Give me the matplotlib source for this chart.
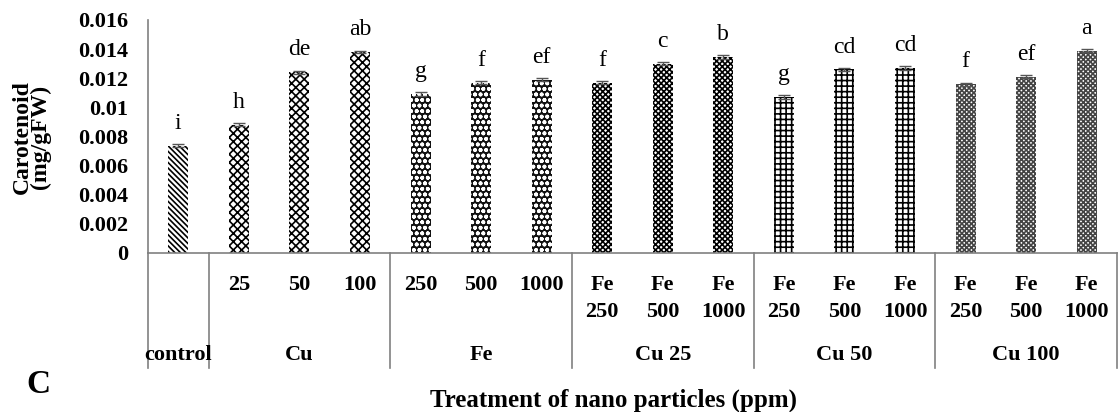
import numpy as np
import matplotlib.pyplot as plt
from matplotlib.transforms import blended_transform_factory

plt.rcParams['font.family'] = ['Liberation Serif', 'DejaVu Serif']
plt.rcParams['hatch.linewidth'] = 1.2

# data
sub_labels = ['', '25', '50', '100', '250', '500', '1000',
              'Fe\n250', 'Fe\n500', 'Fe\n1000',
              'Fe\n250', 'Fe\n500', 'Fe\n1000',
              'Fe\n250', 'Fe\n500', 'Fe\n1000']
groups = ['control', 'Cu', 'Fe', 'Cu 25', 'Cu 50', 'Cu 100']
group_sizes = [1, 3, 3, 3, 3, 3]
carotenoid = [0.00735, 0.0088, 0.0124, 0.0138,
              0.0109, 0.0117, 0.0119,
              0.0117, 0.0130, 0.01345,
              0.0107, 0.0126, 0.0127,
              0.0116, 0.0121, 0.0139]
errors = [0.0001, 0.0001, 0.00012, 0.0001,
          0.00012, 0.0001, 0.0001,
          0.00012, 0.0001, 0.00012,
          0.00015, 0.0001, 0.00015,
          0.0001, 0.0001, 0.00012]
letters = ['i', 'h', 'de', 'ab', 'g', 'f', 'ef', 'f', 'c', 'b',
           'g', 'cd', 'cd', 'f', 'ef', 'a']
y_ticks = [0, 0.002, 0.004, 0.006, 0.008, 0.01, 0.012, 0.014, 0.016]
y_tick_labels = ['0', '0.002', '0.004', '0.006', '0.008', '0.01',
                 '0.012', '0.014', '0.016']

# hatch style per group: (face, hatch colour, hatch)
group_style = [('white', 'black', '\\\\\\\\\\\\'),
               ('white', 'black', 'xxxx'),
               ('#111111', 'white', 'ooo'),
               ('white', 'black', 'xxxxxx'),
               ('white', 'black', '+++'),
               ('white', '#444444', 'xxxxxxx')]

fig = plt.figure(figsize=(11.18, 4.12), dpi=100)
ax = fig.add_axes([0.1324, 0.386, 0.8667, 0.5655])

x = np.arange(len(carotenoid))
styles = []
for g, n in enumerate(group_sizes):
    styles += [group_style[g]] * n

for i in range(len(x)):
    face, hc, hatch = styles[i]
    ax.bar(x[i], carotenoid[i], width=0.33, color=face, edgecolor=hc,
           hatch=hatch, linewidth=0)
ax.errorbar(x, carotenoid, yerr=errors, fmt='none', ecolor='#555555',
            elinewidth=1, capsize=4, capthick=1)

for i in range(len(x)):
    ax.annotate(letters[i], (x[i], carotenoid[i] + errors[i]),
                xytext=(0, 11), textcoords='offset points',
                ha='center', va='baseline', fontsize=17)

ax.set_xlim(-0.5, 15.5)
ax.set_ylim(0, 0.016)
ax.set_yticks(y_ticks)
ax.set_yticklabels(y_tick_labels, fontweight='bold', fontsize=16)
ax.tick_params(axis='y', length=0, pad=14)
ax.set_xticks(x)
ax.set_xticklabels(sub_labels, fontweight='bold', fontsize=16)
for lab in ax.get_xticklabels():
    lab.set_linespacing(1.45)
ax.tick_params(axis='x', length=0, pad=16)

for s in ['top', 'right']:
    ax.spines[s].set_visible(False)
ax.spines['left'].set_color('#808080')
ax.spines['bottom'].set_color('#808080')
ax.spines['left'].set_linewidth(1.2)
ax.spines['bottom'].set_linewidth(1.2)

# category table below the axis
trans = blended_transform_factory(ax.transData, ax.transAxes)
edges = np.concatenate([[0], np.cumsum(group_sizes)]) - 0.5
for e in edges:
    ax.plot([e, e], [0, -0.494], transform=trans, color='#808080',
            linewidth=1.2, clip_on=False)
for g in range(len(groups)):
    c = (edges[g] + edges[g + 1]) / 2
    ax.text(c, -0.438, groups[g], transform=trans, ha='center', va='center',
            fontweight='bold', fontsize=16)

fig.text(0.028, 0.667, 'Carotenoid\n(mg/gFW)', rotation=90, ha='center',
         va='center', fontweight='bold', fontsize=17, linespacing=0.85)
fig.text(0.034, 0.066, 'C', ha='center', va='center', fontweight='bold',
         fontsize=24)
fig.text(0.549, 0.029, 'Treatment of nano particles (ppm)', ha='center',
         va='center', fontweight='bold', fontsize=18)

plt.savefig('out.png', dpi=100)
